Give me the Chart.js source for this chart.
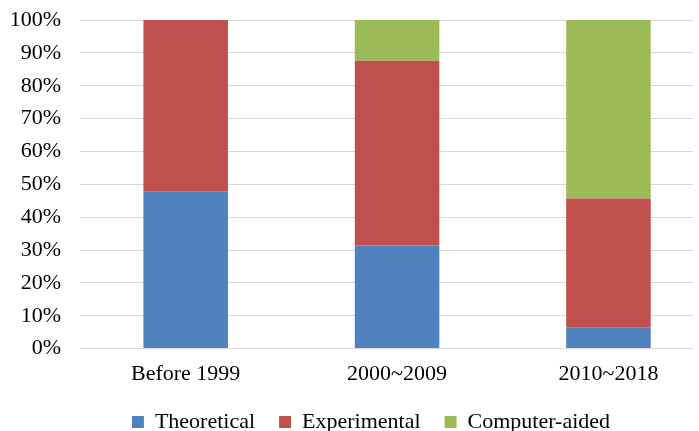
<!DOCTYPE html>
<html>
<head>
<meta charset="utf-8">
<script src="https://cdn.jsdelivr.net/npm/chart.js@4/dist/chart.umd.min.js"></script>
<style>
  html, body { margin: 0; padding: 0; background: #ffffff; }
  #wrap { width: 699px; height: 431px; position: relative; }
</style>
</head>
<body>
<div id="wrap"><canvas id="c"></canvas></div>
<script>
const categories = ['Before 1999', '2000~2009', '2010~2018'];
const theoretical = [47.7, 31.4, 6.5];
const experimental = [52.3, 56.2, 39.2];
const computerAided = [0, 12.4, 54.3];
const yTicks = [0, 10, 20, 30, 40, 50, 60, 70, 80, 90, 100];

const toPoints = arr => arr.map((v, i) => ({ x: i, y: v }));
const fontFamily = "'Liberation Serif', 'Times New Roman', serif";
const LEGEND_PAD = 24;

const legendShift = {
  id: 'legendShift',
  afterLayout(chart) {
    const lg = chart.legend;
    if (!lg) return;
    const dx = 371 - (lg.left + lg.right) / 2;
    lg.left += dx; lg.right += dx;
    const dy = 422 - (lg.top + LEGEND_PAD + 11);
    lg.top += dy; lg.bottom += dy;
  }
};

new Chart(document.getElementById('c'), {
  type: 'bar',
  data: {
    datasets: [
      { label: 'Theoretical', data: toPoints(theoretical), backgroundColor: '#4F81BD' },
      { label: 'Experimental', data: toPoints(experimental), backgroundColor: '#C0504D' },
      { label: 'Computer-aided', data: toPoints(computerAided), backgroundColor: '#9BBB59' }
    ]
  },
  plugins: [legendShift],
  options: {
    responsive: true,
    maintainAspectRatio: false,
    animation: false,
    layout: { padding: { left: 10, right: 6, top: 20, bottom: -24 } },
    datasets: { bar: { barPercentage: 0.4, categoryPercentage: 1.0, borderWidth: 0 } },
    scales: {
      x: {
        type: 'linear',
        stacked: true,
        offset: false,
        min: -0.5,
        max: 2.4,
        grid: { display: false, drawTicks: false },
        border: { display: false },
        afterBuildTicks: axis => {
          axis.ticks = categories.map((c, i) => ({ value: i }));
        },
        ticks: {
          padding: 12,
          autoSkip: false,
          maxRotation: 0,
          color: '#000',
          font: { family: fontFamily, size: 22 },
          callback: v => categories[v]
        }
      },
      y: {
        stacked: true,
        min: 0,
        max: 100,
        afterBuildTicks: axis => { axis.ticks = yTicks.map(v => ({ value: v })); },
        afterFit: axis => { axis.width = 70; axis.paddingTop = 0; axis.paddingBottom = 0; },
        grid: { color: '#D9D9D9', lineWidth: 1, drawTicks: false },
        border: { display: false },
        ticks: {
          padding: 19,
          autoSkip: false,
          color: '#000',
          font: { family: fontFamily, size: 22 },
          callback: v => v + '%'
        }
      }
    },
    plugins: {
      tooltip: { enabled: false },
      legend: {
        position: 'bottom',
        labels: {
          boxWidth: 12,
          boxHeight: 12,
          padding: LEGEND_PAD,
          color: '#000',
          font: { family: fontFamily, size: 22 }
        }
      }
    }
  }
});
</script>
</body>
</html>
